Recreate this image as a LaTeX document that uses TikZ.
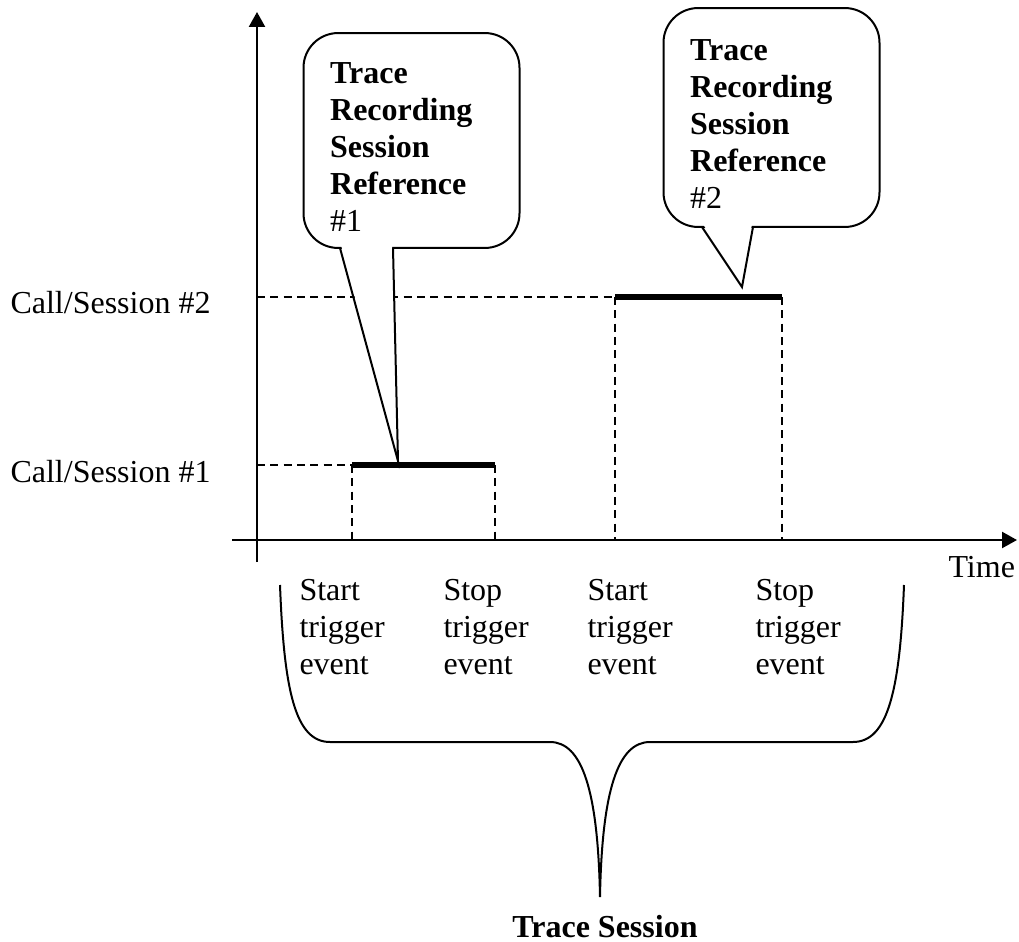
\documentclass[tikz,border=0pt]{standalone}
\usepackage{fontspec}
\setmainfont{Liberation Serif}
\usetikzlibrary{arrows.meta,positioning,calc}

\tikzset{
  txt/.style={font=\fontsize{12}{13.9}\selectfont, inner sep=0pt, align=left},
  callbox/.style={draw, line width=0.75pt, rounded corners=13pt,
    font=\fontsize{12}{13.9}\selectfont\bfseries, align=left,
    text width=61pt, inner xsep=10pt, inner ysep=0pt},
  axisline/.style={line width=0.8pt, -{Triangle[length=5.6pt,width=6pt]}},
  dashline/.style={line width=0.5pt, dash pattern=on 3pt off 2pt},
  bar/.style={line width=2.6pt},
  brace/.style={line width=0.75pt},
}
\newcommand{\toppad}{\rule{0pt}{12.5pt}}

\begin{document}
\begin{tikzpicture}[x=0.375pt,y=-0.375pt]
  \useasboundingbox (0,0) rectangle (1019,942);

  % axes
  \coordinate (o) at (257,540);
  \coordinate (yb) at (257,562);
  \coordinate (yt) at (257,12);
  \coordinate (xl) at (232,540);
  \coordinate (xr) at (1017,540);
  \draw[axisline] (yb) -- (yt);
  \draw[axisline] (xl) -- (xr);
  \node[txt, anchor=base west] (time) at (948,577) {Time};

  % sessions
  \coordinate (s1) at (352,465);
  \coordinate (e1) at (495,465);
  \coordinate (s2) at (615,297);
  \coordinate (e2) at (782,297);
  \node[txt, anchor=base west] (cs1) at (10,482) {Call/Session \#1};
  \node[txt, anchor=base west] (cs2) at (10,313) {Call/Session \#2};
  \draw[dashline] (s1 -| o) -- (s1) (s1) -- (s1 |- o) (e1) -- (e1 |- o);
  \draw[dashline] (s2 -| o) -- (s2) (s2) -- (s2 |- o) (e2) -- (e2 |- o);
  \draw[bar] (s1) -- (e1);
  \draw[bar] (s2) -- (e2);

  % callouts
  \node[callbox, minimum height=80.6pt] (ref1) at (411.5,140.5)
    {\toppad Trace\\Recording\\Session\\Reference\\{\mdseries\#1}};
  \node[callbox, minimum height=82.1pt] (ref2) at (771.5,117.5)
    {\toppad Trace\\Recording\\Session\\Reference\\{\mdseries\#2}};
  \coordinate (p1a) at (340,248);
  \coordinate (p1b) at (393,248);
  \coordinate (p1t) at (398,461);
  \coordinate (p2a) at (702,227);
  \coordinate (p2b) at (753,227);
  \coordinate (p2t) at (742,287);
  \fill[white] ($(p1a)+(1,-3)$) -- (p1t) -- ($(p1b)+(-1,-3)$) -- cycle;
  \fill[white] ($(p2a)+(1,-3)$) -- (p2t) -- ($(p2b)+(-1,-3)$) -- cycle;
  \draw[line width=0.75pt, line join=miter] (p1a) -- (p1t) -- (p1b);
  \draw[line width=0.75pt, line join=miter] (p2a) -- (p2t) -- (p2b);

  % trigger events
  \node[txt, anchor=north west] (ev1) at (299,579) {Start\\trigger\\event};
  \node[txt, anchor=north west] (ev2) at (443,579) {Stop\\trigger\\event};
  \node[txt, anchor=north west] (ev3) at (587,579) {Start\\trigger\\event};
  \node[txt, anchor=north west] (ev4) at (755,579) {Stop\\trigger\\event};

  % brace
  \coordinate (bl) at (280,585);
  \coordinate (br) at (904,585);
  \coordinate (tip) at (600,897);
  \draw[brace] (bl) .. controls (284,690) and (295,742) .. (330,742)
    -- (550,742) .. controls (582,742) and (598,790) .. (tip)
    .. controls (602,790) and (618,742) .. (650,742)
    -- (853,742) .. controls (888,742) and (900,690) .. (br);
  \node[txt, font=\fontsize{12}{13.9}\selectfont\bfseries, anchor=base]
    (ts) at (605,937) {Trace Session};
\end{tikzpicture}
\end{document}
